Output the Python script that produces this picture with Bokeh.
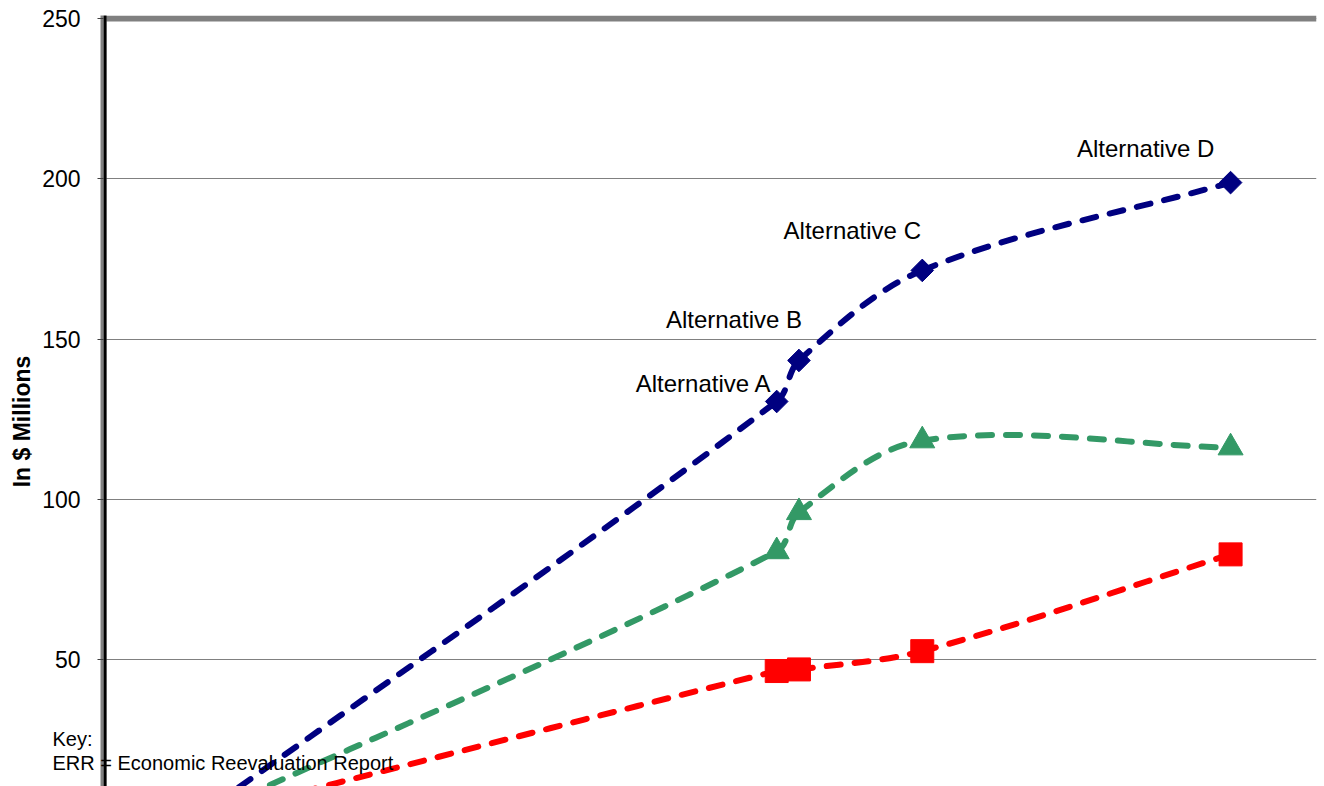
import numpy as np
from bokeh.plotting import figure
from bokeh.models import Range1d, FixedTicker, Span, ColumnDataSource, GridBox
from bokeh.core.properties import value
from bokeh.embed import file_html
from bokeh.resources import INLINE

# --- data -----------------------------------------------------------------
x_vals = [8.9, 66.6, 68.8, 81.0, 111.5]
navy_vals = [0, 130.5, 143.3, 171.4, 198.8]
green_vals = [0, 83.7, 95.9, 118.3, 116.1]
red_vals = [0, 46.4, 46.9, 52.6, 82.8]
alt_labels = ["Alternative A", "Alternative B", "Alternative C", "Alternative D"]
y_ticks = [0, 50, 100, 150, 200, 250]
y_title = "In $ Millions"
key_lines = ["Key:", "ERR = Economic Reevaluation Report"]

# --- layout constants -------------------------------------------------------
W, H = 1324, 786
LEFT, RIGHT, TOP = 103, 8, 15
X0, X1 = 0, 120
PX_PER_Y = 3.205                      # vertical scale, pixels per $ million
Y1 = 250 + 3 / PX_PER_Y               # leaves room for the thick top border
Y0 = Y1 - (H - TOP) / PX_PER_Y
FONT = "Liberation Sans"

# pixel offsets of the alternative labels from their diamonds
label_dx = [-73, -65, -70, -85]
label_dy = [-18, -41, -40, -34]

p = figure(width=W, height=H, output_backend="svg", toolbar_location=None,
           x_range=Range1d(X0, X1), y_range=Range1d(Y0, Y1),
           x_axis_location=None,
           min_border_left=LEFT, min_border_right=RIGHT,
           min_border_top=TOP, min_border_bottom=0,
           outline_line_color=None,
           background_fill_color="white", border_fill_color="white")
p.frame_align = False

# y axis
ax = p.yaxis[0]
ax.ticker = FixedTicker(ticks=y_ticks)
ax.major_label_text_font = FONT
ax.major_label_text_font_size = "23px"
ax.major_label_text_color = "black"
ax.major_label_standoff = 17
ax.axis_line_color = "#808080"
ax.axis_line_width = 6
ax.major_tick_out = 6
ax.major_tick_in = 0
ax.major_tick_line_color = "#404040"
ax.minor_tick_line_color = None
for g in p.grid:
    if g.dimension == 0:
        g.visible = False
p.ygrid.grid_line_color = "#808080"
p.ygrid.grid_line_width = 1

sx = (W - LEFT - RIGHT) / (X1 - X0)
sy = PX_PER_Y

# plot-area border: thick grey top edge, dark inner line along the y axis
p.add_layout(Span(location=250, dimension="width", line_color="#808080", line_width=6))
p.add_layout(Span(location=X0 + 1.5 / sx, dimension="height", line_color="black",
                  line_width=3))


def smooth_segments(xs, ys):
    """Cubic Bezier control points for a smoothed line through the points."""
    P = np.column_stack([np.asarray(xs, float) * sx, np.asarray(ys, float) * sy])
    n = len(P)
    T = np.zeros_like(P)
    for i in range(n):
        d = P[min(i + 1, n - 1)] - P[max(i - 1, 0)]
        T[i] = d / np.hypot(*d)
    segs = dict(x0=[], y0=[], x1=[], y1=[], cx0=[], cy0=[], cx1=[], cy1=[])
    for i in range(n - 1):
        L = np.hypot(*(P[i + 1] - P[i]))
        c0 = P[i] + T[i] * L / 3
        c1 = P[i + 1] - T[i + 1] * L / 3
        for k, pt in (("0", P[i]), ("1", P[i + 1])):
            segs["x" + k].append(pt[0] / sx)
            segs["y" + k].append(pt[1] / sy)
        segs["cx0"].append(c0[0] / sx)
        segs["cy0"].append(c0[1] / sy)
        segs["cx1"].append(c1[0] / sx)
        segs["cy1"].append(c1[1] / sy)
    return ColumnDataSource(segs)


series = [
    (red_vals, "#FF0000", "square", 23, 0.0),
    (green_vals, "#339966", "triangle", 25, 0.0),
    (navy_vals, "#000080", "square", 16, np.pi / 4),
]

for vals, color, marker, size, ang in series:
    p.bezier(x0="x0", y0="y0", x1="x1", y1="y1", cx0="cx0", cy0="cy0",
             cx1="cx1", cy1="cy1", source=smooth_segments(x_vals, vals),
             line_color=color, line_width=6, line_dash="14 14",
             line_cap="round", line_join="round")

for vals, color, marker, size, ang in series:
    p.scatter(x_vals[1:], vals[1:], marker=marker, size=size, angle=ang,
              fill_color=color, line_color=color, line_width=1)

# labels next to the navy diamonds
lab_src = ColumnDataSource(dict(x=x_vals[1:], y=navy_vals[1:], text=alt_labels,
                                dx=label_dx, dy=label_dy))
p.text(x="x", y="y", text="text", x_offset="dx", y_offset="dy", source=lab_src,
       text_font=value(FONT), text_font_size=value("24px"), text_color="black",
       text_align="center", text_baseline="middle")

# transparent overlay carrying the axis title and the key, which sit
# across the boundary of the plotting frame
ov = figure(width=W, height=H, output_backend="svg", toolbar_location=None,
            x_range=Range1d(0, W), y_range=Range1d(H, 0),
            x_axis_location=None, y_axis_location=None,
            min_border=0, min_border_left=0, min_border_right=0,
            min_border_top=0, min_border_bottom=0,
            outline_line_color=None,
            background_fill_alpha=0, border_fill_alpha=0)
ov.frame_align = False
ov.grid.visible = False
ov.text(x=[21], y=[421], text=[y_title], angle=np.pi / 2,
        text_font=value(FONT), text_font_size=value("23px"),
        text_font_style="bold", text_color="black",
        text_align="center", text_baseline="middle")
ov.text(x=[52, 52], y=[738, 762], text=key_lines,
        text_font=value(FONT), text_font_size=value("20px"), text_color="black",
        text_align="left", text_baseline="middle")

layout = GridBox(children=[(p, 0, 0), (ov, 0, 0)])

open("out.html", "w").write(file_html(layout, INLINE))
